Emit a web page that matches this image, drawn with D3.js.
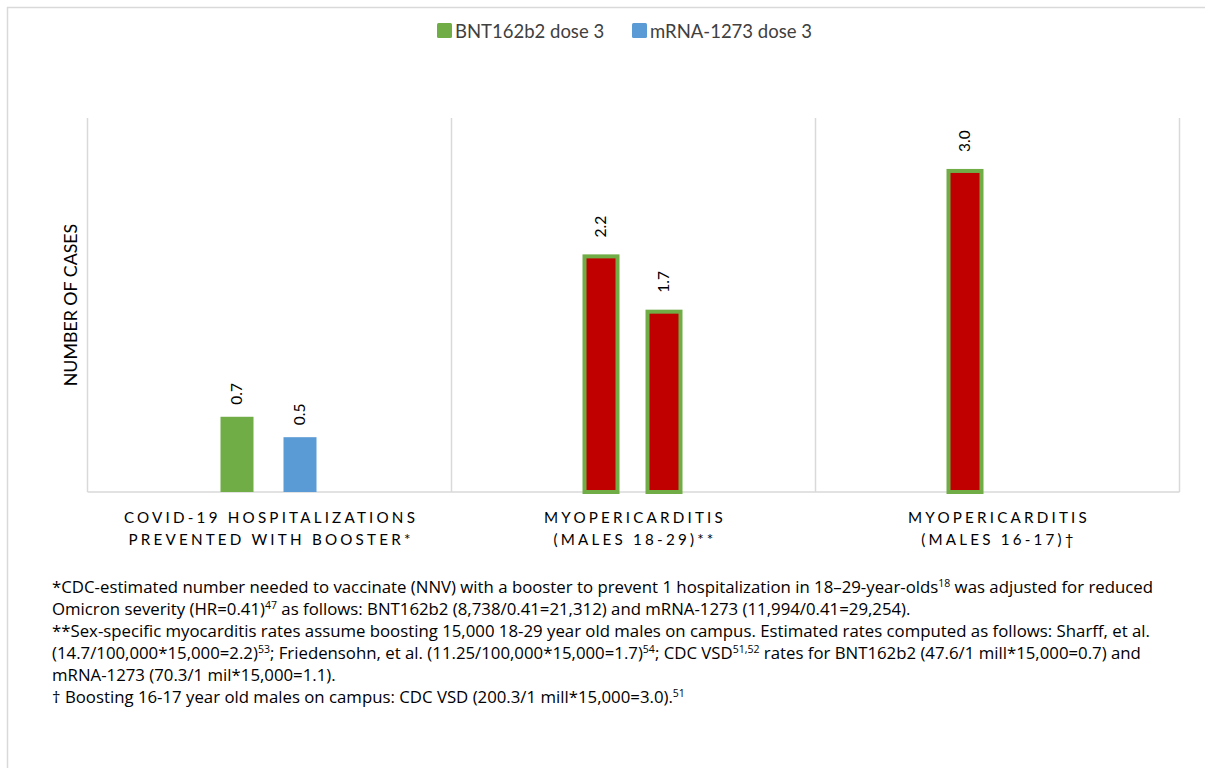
<!DOCTYPE html>
<html><head><meta charset="utf-8">
<script src="https://cdn.jsdelivr.net/npm/d3@7/dist/d3.min.js"></script>
<style>
body{margin:0;background:#fff;}
svg{display:block;font-family:Lato, "Open Sans", sans-serif;}
</style></head><body>
<svg id="chart" width="1205" height="768"></svg>
<script>
const categories = [["COVID-19 HOSPITALIZATIONS","PREVENTED WITH BOOSTER*"],["MYOPERICARDITIS","(MALES 18-29)**"],["MYOPERICARDITIS","(MALES 16-17)\u2020"]];
const seriesNames = ["BNT162b2 dose 3","mRNA-1273 dose 3"];
const bntValues = [0.704, 2.205, 3.0045];
const mrnaValues = [0.513, 1.6875, null];
const labelText = [["0.7","0.5"],["2.2","1.7"],["3.0",""]];
const yMax = 3.5;
const footnotes = [
  [["*CDC-estimated number needed to vaccinate (NNV) with a booster to prevent 1 hospitalization in 18\u201329-year-olds",""],["18","sup"],[" was adjusted for reduced",""]],
  [["Omicron severity (HR=0.41)",""],["47","sup"],[" as follows: BNT162b2 (8,738/0.41=21,312) and mRNA-1273 (11,994/0.41=29,254).",""]],
  [["**Sex-specific myocarditis rates assume boosting 15,000 18-29 year old males on campus. Estimated rates computed as follows: Sharff, et al.",""]],
  [["(14.7/100,000*15,000=2.2)",""],["53","sup"],["; Friedensohn, et al. (11.25/100,000*15,000=1.7)",""],["54","sup"],["; CDC VSD",""],["51,52","sup"],[" rates for BNT162b2 (47.6/1 mill*15,000=0.7) and",""]],
  [["mRNA-1273 (70.3/1 mil*15,000=1.1).",""]],
  [["\u2020 Boosting 16-17 year old males on campus: CDC VSD (200.3/1 mill*15,000=3.0).",""],["51","sup"]]
];

(function(){
const colors = {bnt:"#70AD47", mrna:"#5B9BD5", red:"#C00000", grid:"#D9D9D9"};
const svg = d3.select("#chart");

svg.append("line").attr("x1",7.5).attr("x2",7.5).attr("y1",7).attr("y2",768).attr("stroke","#D9D9D9").attr("stroke-width",1.5);
svg.append("line").attr("x1",7).attr("x2",1205).attr("y1",7.5).attr("y2",7.5).attr("stroke","#D9D9D9").attr("stroke-width",1.5);

const pL=87.5, pR=1179.5, pT=118, pB=492;
const x0 = d3.scaleBand().domain(d3.range(categories.length)).range([pL,pR]);
const x1 = d3.scaleBand().domain([0,1]).range([x0.bandwidth()/2-64, x0.bandwidth()/2+62]);
const y = d3.scaleLinear().domain([0,yMax]).range([pB,pT]);

const seps = d3.range(categories.length+1).map(i => i<categories.length ? x0(i) : x0(categories.length-1)+x0.bandwidth());
svg.append("g").selectAll("line").data(seps).join("line")
  .attr("x1",d=>d).attr("x2",d=>d).attr("y1",pT).attr("y2",pB)
  .attr("stroke",colors.grid).attr("stroke-width",1.5);

svg.append("line").attr("x1",pL).attr("x2",pR).attr("y1",y(0)).attr("y2",y(0)).attr("stroke",colors.grid).attr("stroke-width",1.5);

const bars = [];
categories.forEach((c,i)=>{
  [bntValues[i], mrnaValues[i]].forEach((v,j)=>{
    if(v==null) return;
    bars.push({cat:i, s:j, v:v, label:labelText[i][j]});
  });
});
const bw = 33;
const g = svg.append("g");
bars.forEach(d=>{
  const cx = x0(d.cat)+x1(d.s)+x1.bandwidth()/2;
  const special = d.cat>0;
  g.append("rect")
    .attr("x",cx-bw/2).attr("width",bw)
    .attr("y",y(d.v)).attr("height",y(0)-y(d.v))
    .attr("fill", special?colors.red:(d.s===0?colors.bnt:colors.mrna))
    .attr("stroke", special?colors.bnt:"none").attr("stroke-width", special?4:0);
  g.append("text")
    .attr("transform",`translate(${cx+5},${y(d.v)-(special?19:12)}) rotate(-90)`)
    .attr("font-size",15.5).attr("fill","#000").attr("text-anchor","start")
    .text(d.label);
});

const leg = svg.append("g");
const legItems = [{n:seriesNames[0],c:colors.bnt,x:437},{n:seriesNames[1],c:colors.mrna,x:632}];
legItems.forEach(l=>{
  leg.append("rect").attr("x",l.x).attr("y",23).attr("width",15).attr("height",15).attr("rx",1.5).attr("fill",l.c);
  leg.append("text").attr("x",l.x+18).attr("y",38).attr("font-size",18.5).attr("fill","#404040").text(l.n);
});

svg.append("text").attr("transform","translate(77,305) rotate(-90)").attr("text-anchor","middle")
  .attr("font-size",17.8).attr("fill","#000").text("NUMBER OF CASES");

categories.forEach((c,i)=>{
  const cx = x0(i)+x0.bandwidth()/2;
  c.forEach((line,k)=>{
    svg.append("text").attr("x",cx+1.5).attr("y",523+k*22).attr("text-anchor","middle")
      .attr("font-size",15.2).attr("letter-spacing","3.2px").attr("fill","#000").text(line);
  });
});

const fn = svg.append("g").attr("font-size",16.8).attr("fill","#000").attr("font-family","'Open Sans', sans-serif");
footnotes.forEach((parts,i)=>{
  const t = fn.append("text").attr("x",52).attr("y",593+i*22);
  let pending = 0;
  parts.forEach(p=>{
    if(p[1]==="sup"){
      t.append("tspan").attr("font-size",10.5).attr("dy",-6+pending).text(p[0]);
      pending = 6;
    } else {
      t.append("tspan").attr("dy",pending).text(p[0]);
      pending = 0;
    }
  });
});
})();
</script>
</body></html>
